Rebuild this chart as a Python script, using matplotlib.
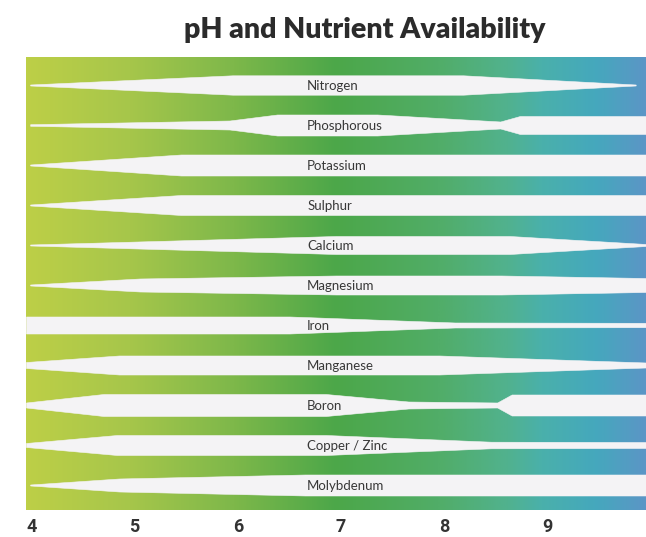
import matplotlib.pyplot as plt
import numpy as np
from matplotlib.colors import LinearSegmentedColormap

# nutrients, top to bottom
nutrients = ['Nitrogen', 'Phosphorous', 'Potassium', 'Sulphur', 'Calcium', 'Magnesium',
             'Iron', 'Manganese', 'Boron', 'Copper / Zinc', 'Molybdenum']

# availability profile of each nutrient: pH breakpoints and relative band width (1 = full)
ph_pts = {
    'Nitrogen':      [4.04, 6.0, 8.23, 9.9],
    'Phosphorous':   [4.04, 5.97, 6.43, 7.4, 8.59, 8.78, 10.0],
    'Potassium':     [4.04, 5.5, 10.0],
    'Sulphur':       [4.04, 5.5, 10.0],
    'Calcium':       [4.04, 7.0, 8.68, 10.0],
    'Magnesium':     [4.04, 5.1, 7.0, 8.6, 10.0],
    'Iron':          [4.0, 6.55, 8.15, 10.0],
    'Manganese':     [4.0, 4.9, 8.0, 10.0],
    'Boron':         [4.0, 4.75, 6.9, 7.7, 8.56, 8.70, 10.0],
    'Copper / Zinc': [4.0, 4.88, 6.9, 8.5, 10.0],
    'Molybdenum':    [4.04, 4.9, 6.7, 10.0],
}
avail = {
    'Nitrogen':      [0.05, 0.97, 0.97, 0.05],
    'Phosphorous':   [0.08, 0.45, 1.05, 1.05, 0.35, 0.9, 0.9],
    'Potassium':     [0.05, 1.05, 1.05],
    'Sulphur':       [0.05, 1.0, 1.0],
    'Calcium':       [0.05, 0.9, 0.9, 0.1],
    'Magnesium':     [0.05, 0.65, 0.95, 0.95, 0.7],
    'Iron':          [0.85, 0.85, 0.25, 0.22],
    'Manganese':     [0.3, 0.95, 0.95, 0.25],
    'Boron':         [0.25, 1.1, 1.1, 0.35, 0.25, 1.05, 1.05],
    'Copper / Zinc': [0.2, 1.0, 1.0, 0.33, 0.3],
    'Molybdenum':    [0.05, 0.65, 1.05, 1.05],
}

ph_ticks = [4, 5, 6, 7, 8, 9]
title = 'pH and Nutrient Availability'

# background gradient, acid (left) to alkaline (right)
grad_cmap = LinearSegmentedColormap.from_list('ph', [
    (0.0, '#bdcf47'), (1/6, '#a6c64b'), (2/6, '#7eb84a'), (0.5, '#4ca749'),
    (4/6, '#51ad68'), (0.78, '#51b28f'), (5/6, '#4ab0ab'), (0.92, '#45a8bd'),
    (1.0, '#5b96c6')])

fig = plt.figure(figsize=(6.46, 5.37), dpi=100)
ax = fig.add_axes([26/646, 27/537, 620/646, 453/537])

y_top, y_bot = -0.7, len(nutrients) - 0.375
ax.imshow(np.linspace(0, 1, 512)[None, :], cmap=grad_cmap, aspect='auto',
          extent=[4, 10, y_bot, y_top], interpolation='bilinear')

half = 0.25  # half of a full band, in row units
band_col = '#f4f3f5'
for i, name in enumerate(nutrients):
    x = np.array(ph_pts[name])
    a = np.array(avail[name])
    ax.fill_between(x, i - half * a, i + half * a, color=band_col, lw=0.4, edgecolor=band_col)
    ax.text(6.72, i + 0.02, name, ha='left', va='center', fontsize=9.5,
            family='Lato', color='#383838')

ax.set_xlim(4, 10)
ax.set_ylim(y_bot, y_top)
ax.set_yticks([])
ax.set_xticks(ph_ticks)
ax.set_xticklabels([str(t) for t in ph_ticks], ha='left', fontsize=13, fontweight='bold',
                   family='Roboto', color='#333333')
ax.tick_params(axis='x', length=0, pad=6)
for s in ax.spines.values():
    s.set_visible(False)

fig.text(0.565, 0.944, title, ha='center', va='center', fontsize=20.5, fontweight='heavy',
         family='Lato', color='#2b2b2b')

plt.savefig('out.png', dpi=100)
